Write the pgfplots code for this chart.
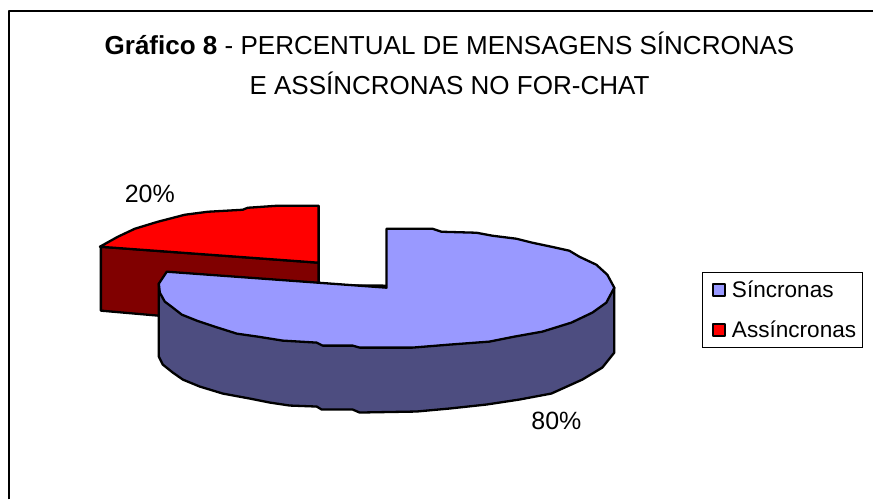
\documentclass[border=0pt]{standalone}
\usepackage{fontspec}
\setmainfont{Liberation Sans}
\usepackage{pgfplots}
\pgfplotsset{compat=1.18}
\definecolor{sinc}{HTML}{9999FF}
\definecolor{sincd}{HTML}{4D4D80}
\definecolor{assi}{HTML}{FF0000}
\definecolor{assid}{HTML}{800000}
\begin{document}
\begin{tikzpicture}
\begin{axis}[
  scale only axis, width=874pt, height=500pt,
  xmin=0, xmax=874, ymin=0, ymax=500, y dir=reverse,
  hide axis, clip=false,
  legend style={at={(axis cs:703,272)}, anchor=north west, draw=black, line width=1pt,
    fill=white, font=\fontsize{22.6}{24}\selectfont, inner xsep=4pt, inner ysep=6.5pt, row sep=18pt,
    /tikz/every even column/.style={column sep=0pt}},
  legend cell align=left,
  every axis plot/.append style={line join=round, line width=2.3pt, draw=black},
]
% page corners (white) and chart frame
\addplot[forget plot, draw=none, fill=white] coordinates {(0,0)(874,0)(874,500)(0,500)} --cycle;
\addplot[forget plot, line width=2pt] coordinates {(9,500)(9,11.5)(874,11.5)};
% Assincronas: side and top
\addplot[forget plot, fill=assid] coordinates {(101,247)(319,263)(319,330)(101,311)} --cycle;
\addplot[forget plot, fill=assi] coordinates {(319,206)(277,206)(248,208)(243,210)(208,212)(185,215)(158,222)(135,229)(118,237)(100,247)(319,263)} --cycle;
% Sincronas: side and top
\addplot[forget plot, fill=sincd] coordinates {(615,288)(615,353)(603,368)(583,380)(552,394)(520,400)(487,405)(450,409)(417,412)(360,413)(353,410)(322,410)(317,407)(290,406)(270,403)(250,399)(223,394)(200,387)(183,380)(173,373)(163,365)(159,357)(159,284)} --cycle;
\addplot[forget plot, fill=sinc] coordinates {(387,288)(387,229)(433,229)(442,232)(477,233)(493,236)(517,239)(533,243)(552,247)(570,251)(580,257)(597,265)(608,275)(615,288)(607,303)(593,313)(572,323)(543,332)(515,337)(490,342)(450,345)(413,348)(360,348)(353,346)(323,346)(317,343)(283,341)(258,337)(237,334)(218,328)(197,321)(182,315)(173,308)(165,302)(160,293)(159,284)(167,272)} --cycle;
% legend
\addlegendimage{legend image code/.code={\path (0pt,0pt) (21pt,0pt); \draw[fill=sinc, draw=black, line width=2pt] (5pt,-6.5pt) rectangle (17pt,5.5pt);}}
\addlegendentry{Síncronas}
\addlegendimage{legend image code/.code={\path (0pt,0pt) (21pt,0pt); \draw[fill=assi, draw=black, line width=2pt] (5pt,-6.5pt) rectangle (17pt,5.5pt);}}
\addlegendentry{Assíncronas}
% texts
\node[align=center, font=\fontsize{26.05}{39.5}\selectfont] at (axis cs:450,63.5) {\textbf{Gráfico 8} - PERCENTUAL DE MENSAGENS SÍNCRONAS\\E ASSÍNCRONAS NO FOR-CHAT};
\node[font=\fontsize{25}{27}\selectfont] at (axis cs:150,194) {20\%};
\node[font=\fontsize{25}{27}\selectfont] at (axis cs:557,421) {80\%};
\end{axis}
\end{tikzpicture}
\end{document}
